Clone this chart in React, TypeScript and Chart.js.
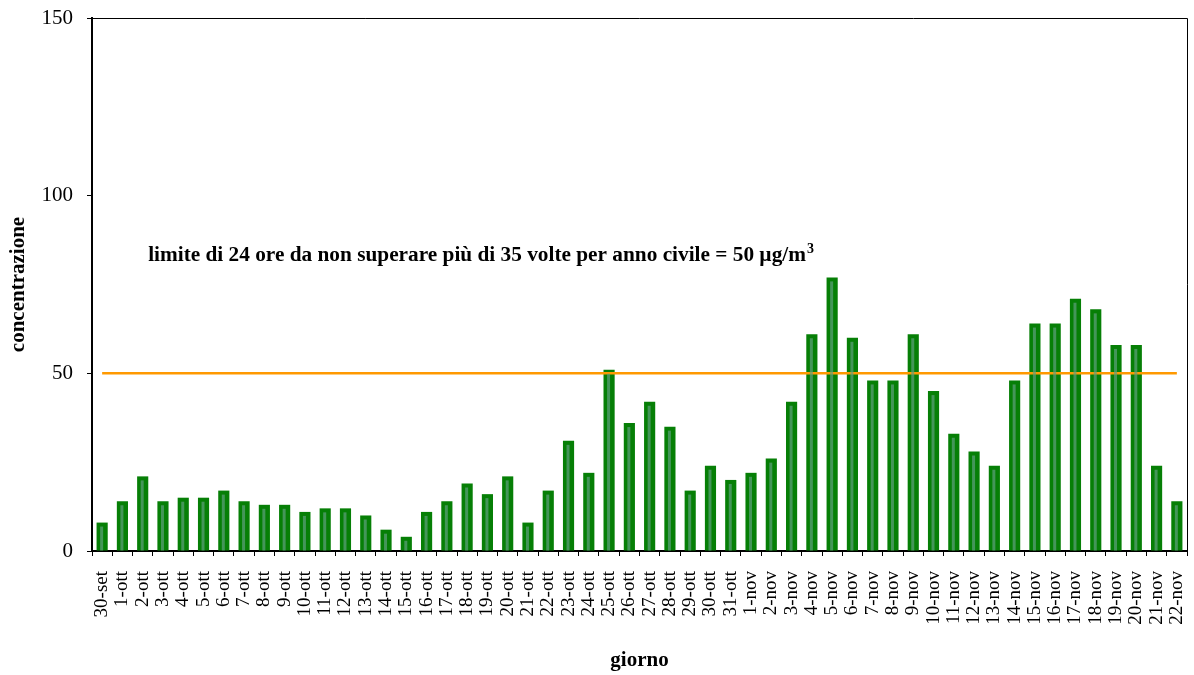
import React, { useEffect, useRef } from "react";
import { Chart, registerables } from "chart.js";

Chart.register(...registerables);

const categories: string[] = [
  "30-set",
  "1-ott", "2-ott", "3-ott", "4-ott", "5-ott", "6-ott", "7-ott", "8-ott", "9-ott", "10-ott",
  "11-ott", "12-ott", "13-ott", "14-ott", "15-ott", "16-ott", "17-ott", "18-ott", "19-ott", "20-ott",
  "21-ott", "22-ott", "23-ott", "24-ott", "25-ott", "26-ott", "27-ott", "28-ott", "29-ott", "30-ott", "31-ott",
  "1-nov", "2-nov", "3-nov", "4-nov", "5-nov", "6-nov", "7-nov", "8-nov", "9-nov", "10-nov",
  "11-nov", "12-nov", "13-nov", "14-nov", "15-nov", "16-nov", "17-nov", "18-nov", "19-nov", "20-nov",
  "21-nov", "22-nov",
];

const concentrations: number[] = [
  8,
  14, 21, 14, 15, 15, 17, 14, 13, 13, 11,
  12, 12, 10, 6, 4, 11, 14, 19, 16, 21,
  8, 17, 31, 22, 51, 36, 42, 35, 17, 24, 20,
  22, 26, 42, 61, 77, 60, 48, 48, 61, 45,
  33, 28, 24, 48, 64, 64, 71, 68, 58, 58,
  24, 14,
];

const LIMIT = 50;
const yTicks: number[] = [0, 50, 100, 150];
const limitText = "limite di 24 ore da non superare più di 35 volte per anno civile = 50 µg/m";
const limitSup = "3";
const xTitle = "giorno";
const yTitle = "concentrazione";

const SERIF = "'Liberation Serif', 'Times New Roman', serif";

const decorPlugin = {
  id: "decor",
  afterDatasetsDraw(chart: any) {
    const { ctx } = chart;
    const meta = chart.getDatasetMeta(0);
    ctx.save();
    meta.data.forEach((bar: any) => {
      const h = bar.base - bar.y;
      if (h <= 5) return;
      ctx.fillStyle = "rgba(95,160,125,0.7)";
      ctx.fillRect(bar.x - 2, bar.y + 4, 3, h - 4);
    });
    ctx.restore();
  },
  afterDraw(chart: any) {
    const { ctx, chartArea, scales } = chart;
    ctx.save();
    ctx.strokeStyle = "#000";
    ctx.lineWidth = 1;
    ctx.beginPath();
    ctx.moveTo(chartArea.left, chartArea.top + 0.5);
    ctx.lineTo(chartArea.right + 0.5, chartArea.top + 0.5);
    ctx.lineTo(chartArea.right + 0.5, chartArea.bottom);
    ctx.stroke();
    ctx.fillStyle = "#000";
    ctx.font = "bold 21.3px " + SERIF;
    ctx.textBaseline = "alphabetic";
    ctx.textAlign = "left";
    const x0 = scales.x.getPixelForValue(0) + 46;
    const y0 = scales.y.getPixelForValue(81.5);
    ctx.fillText(limitText, x0, y0);
    const w = ctx.measureText(limitText).width;
    ctx.font = "bold 14px " + SERIF;
    ctx.fillText(limitSup, x0 + w + 1, y0 - 8);
    ctx.restore();
  },
};

export default function App() {
  const ref = useRef<HTMLCanvasElement | null>(null);
  useEffect(() => {
    document.body.style.margin = "0";
    if (!ref.current) return;
    const chart = new Chart(ref.current, {
      type: "bar",
      data: {
        labels: categories,
        datasets: [
          {
            type: "bar",
            label: "concentrazione",
            data: concentrations,
            backgroundColor: "#067f06",
            borderWidth: 0,
            barPercentage: 0.55,
            categoryPercentage: 1,
            order: 2,
          } as any,
          {
            type: "line",
            label: "limite",
            data: categories.map(() => LIMIT),
            borderColor: "#ff9900",
            borderWidth: 2.5,
            pointRadius: 0,
            fill: false,
            order: 1,
          } as any,
        ],
      },
      options: {
        responsive: false,
        animation: false,
        devicePixelRatio: 1,
        layout: { padding: { top: 18, right: 7, left: 0, bottom: 0 } },
        plugins: {
          legend: { display: false },
          tooltip: { enabled: false },
        },
        scales: {
          x: {
            offset: true,
            afterFit: (s: any) => {
              s.height = 124;
              s.paddingLeft = 0;
              s.paddingRight = 0;
            },
            grid: {
              display: true,
              drawOnChartArea: false,
              drawTicks: true,
              tickLength: 5,
              color: "#000",
              offset: true,
            },
            border: { display: true, color: "#000", width: 2 },
            ticks: {
              autoSkip: false,
              maxRotation: 90,
              minRotation: 90,
              padding: 15,
              color: "#000",
              font: { family: SERIF, size: 19 },
            },
            title: {
              display: true,
              text: xTitle,
              color: "#000",
              font: { family: SERIF, size: 21, weight: "bold" },
              padding: { top: 0, bottom: 2 },
            },
          },
          y: {
            min: 0,
            max: 150,
            afterFit: (s: any) => {
              s.width = 92;
              s.paddingTop = 0;
              s.paddingBottom = 0;
            },
            afterBuildTicks: (s: any) => {
              s.ticks = yTicks.map((v) => ({ value: v }));
            },
            grid: {
              display: true,
              drawOnChartArea: false,
              drawTicks: true,
              tickLength: 5,
              color: "#000",
            },
            border: { display: true, color: "#000", width: 2 },
            ticks: {
              padding: 14,
              color: "#000",
              font: { family: SERIF, size: 21 },
            },
            title: {
              display: true,
              text: yTitle,
              color: "#000",
              font: { family: SERIF, size: 21, weight: "bold" },
              padding: { top: 6, bottom: 0 },
            },
          },
        },
      },
      plugins: [decorPlugin],
    });
    return () => chart.destroy();
  }, []);
  return (
    <div style={{ position: "fixed", left: 0, top: 0, width: 1194, height: 675, background: "#fff" }}>
      <canvas ref={ref} width={1194} height={675} style={{ width: 1194, height: 675 }} />
    </div>
  );
}
